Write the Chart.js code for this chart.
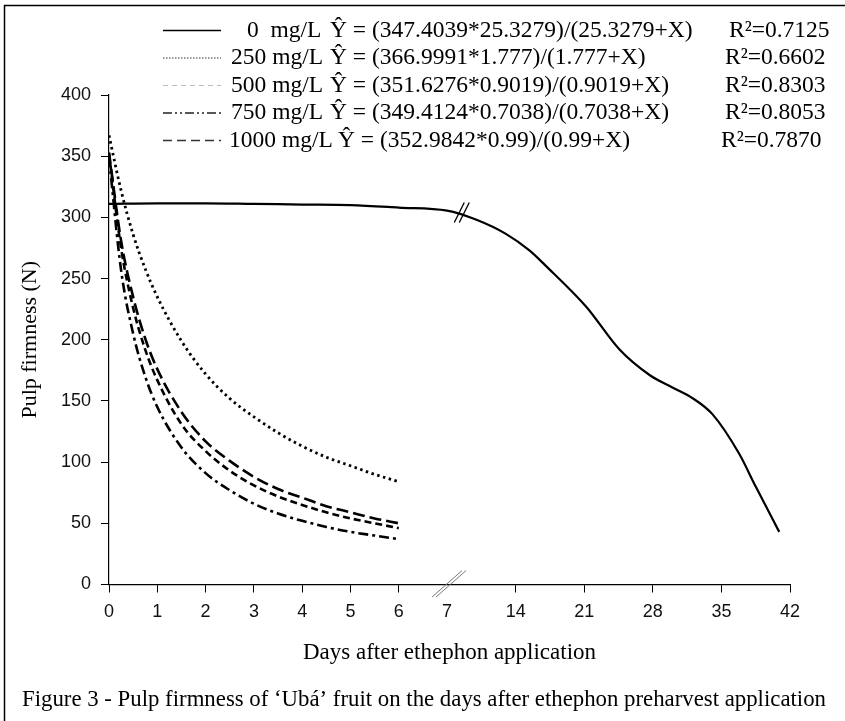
<!DOCTYPE html>
<html>
<head>
<meta charset="utf-8">
<script src="https://cdn.jsdelivr.net/npm/chart.js@4.4.0/dist/chart.umd.min.js"></script>
<style>
  html, body { margin: 0; padding: 0; background: #fff; }
  #wrap { position: relative; width: 845px; height: 721px; }
</style>
</head>
<body>
<div id="wrap"><canvas id="chart"></canvas></div>
<script>
// tick labels on the broken x axis (days)
const dayTicks = [0, 1, 2, 3, 4, 5, 6, 7, 14, 21, 28, 35, 42];

// legend texts
const doseLabels = ["0  mg/L", "250 mg/L", "500 mg/L", "750 mg/L", "1000 mg/L"];
const equations = [
  "Ŷ = (347.4039*25.3279)/(25.3279+X)",
  "Ŷ = (366.9991*1.777)/(1.777+X)",
  "Ŷ = (351.6276*0.9019)/(0.9019+X)",
  "Ŷ = (349.4124*0.7038)/(0.7038+X)",
  "Ŷ = (352.9842*0.99)/(0.99+X)"
];
const rSquared = ["0.7125", "0.6602", "0.8303", "0.8053", "0.7870"];

// 0 mg/L (days, N)
const days0 = [0, 1, 2, 3, 4, 5, 6, 7, 10, 13, 15.4, 17, 21.2, 24.6, 27.7, 30, 32.1, 34.1, 36.8, 38.5, 40.9];
const firm0 = [311, 311.5, 311.5, 311, 310.5, 310, 308, 305.5, 298, 286.5, 273, 261, 227, 192, 171, 161, 152, 139, 107, 80, 43];

// treated fruit, days 0-6
const daysTreated = [0, 0.25, 0.5, 0.75, 1, 1.5, 2, 2.5, 3, 3.5, 4, 4.5, 5, 5.5, 6];
const firm250 = [367, 322, 286, 258, 235, 199, 172, 152, 137, 124, 113, 104, 97, 90, 84];
const firm500 = [352, 275, 226, 192, 167, 131, 109, 93, 81, 72, 65, 59, 54, 50, 46];
const firm750 = [349, 257, 205, 170, 145, 112, 91, 77, 66, 58, 52, 47, 43, 40, 37];
const firm1000 = [353, 281, 235, 201, 176, 141, 117, 101, 88, 78, 71, 64, 59, 54, 50];

// the axis is broken after day 7: each week then takes 1.42 "day" widths
const weekWidth = 1.42;
function axisPos(day) {
  return day <= 7 ? day : 7 + (day - 7) / 7 * weekWidth;
}
function toPoints(days, vals) {
  return days.map((d, i) => ({ x: axisPos(d), y: vals[i] }));
}

const serif = "'Liberation Serif', 'Times New Roman', serif";
const sans = "'Liberation Sans', Arial, sans-serif";

const legendStyles = [
  { dash: [], color: "#000", width: 1.5 },
  { dash: [1.5, 1.5], color: "#333", width: 1.2 },
  { dash: [5, 4], color: "#bbb", width: 1.2 },
  { dash: [9, 3, 2, 3, 2, 3], color: "#222", width: 1.4 },
  { dash: [9, 5], color: "#333", width: 1.4 }
];

const decorPlugin = {
  id: "decor",
  afterDraw(chart) {
    const ctx = chart.ctx;
    const xs = chart.scales.x, ys = chart.scales.y;
    ctx.save();

    // figure frame (top and left)
    ctx.strokeStyle = "#000";
    ctx.lineWidth = 1.5;
    ctx.setLineDash([]);
    ctx.beginPath();
    ctx.moveTo(845, 5.5); ctx.lineTo(4.5, 5.5); ctx.lineTo(4.5, 721);
    ctx.stroke();

    // legend
    ctx.fillStyle = "#000";
    ctx.font = "23.5px " + serif;
    ctx.textBaseline = "middle";
    for (let i = 0; i < doseLabels.length; i++) {
      const y = 30.5 + i * 27.5;
      const st = legendStyles[i];
      ctx.strokeStyle = st.color;
      ctx.lineWidth = st.width;
      ctx.setLineDash(st.dash);
      ctx.beginPath();
      ctx.moveTo(163, y); ctx.lineTo(221, y);
      ctx.stroke();
      ctx.fillText(doseLabels[i], i === 0 ? 247 : (i === 4 ? 229 : 231), y);
      ctx.fillText(equations[i], i === 4 ? 338 : 330, y);
      ctx.fillText("R²=" + rSquared[i], i === 0 ? 729 : (i === 4 ? 721 : 725), y);
    }
    ctx.setLineDash([]);

    // axis break
    const bx = xs.getPixelForValue(axisPos(7)) + 2;
    const by = ys.getPixelForValue(0);
    ctx.strokeStyle = "#777";
    ctx.lineWidth = 1;
    [-2, 2].forEach(o => {
      ctx.beginPath();
      ctx.moveTo(bx - 15 + o, by + 12.5);
      ctx.lineTo(bx + 15 + o, by - 14);
      ctx.stroke();
    });

    // break mark on the 0 mg/L line
    const cx = xs.getPixelForValue(axisPos(8.5));
    const cy = ys.getPixelForValue(304);
    ctx.strokeStyle = "#000";
    ctx.lineWidth = 1.3;
    [-2.5, 2.5].forEach(o => {
      ctx.beginPath();
      ctx.moveTo(cx - 5 + o, cy + 10);
      ctx.lineTo(cx + 5 + o, cy - 10);
      ctx.stroke();
    });

    // caption
    ctx.fillStyle = "#000";
    ctx.font = "22.8px " + serif;
    ctx.textAlign = "left";
    ctx.fillText("Figure 3 - Pulp firmness of \u2018Ub\u00e1\u2019 fruit on the days after ethephon preharvest application", 22, 700);
    ctx.restore();
  }
};

const lineBase = { pointRadius: 0, fill: false, cubicInterpolationMode: "monotone", borderColor: "#000", borderCapStyle: "butt" };

new Chart("chart", {
  type: "line",
  data: {
    datasets: [
      Object.assign({ label: "0 mg/L", data: toPoints(days0, firm0), borderWidth: 2.2 }, lineBase),
      Object.assign({ label: "250 mg/L", data: toPoints(daysTreated, firm250), borderWidth: 2.8, borderDash: [2.5, 3.5] }, lineBase),
      Object.assign({ label: "500 mg/L", data: toPoints(daysTreated, firm500), borderWidth: 2.6, borderDash: [7, 4] }, lineBase),
      Object.assign({ label: "750 mg/L", data: toPoints(daysTreated, firm750), borderWidth: 2.6, borderDash: [10, 4, 3, 4] }, lineBase),
      Object.assign({ label: "1000 mg/L", data: toPoints(daysTreated, firm1000), borderWidth: 2.6, borderDash: [12, 5] }, lineBase)
    ]
  },
  options: {
    responsive: true,
    maintainAspectRatio: false,
    animation: false,
    layout: { padding: { left: 9, right: 55, top: 95, bottom: 52.5 } },
    plugins: {
      legend: { display: false },
      tooltip: { enabled: false }
    },
    scales: {
      x: {
        type: "linear",
        min: 0,
        max: axisPos(42),
        afterBuildTicks: scale => {
          scale.ticks = dayTicks.map(d => ({ value: axisPos(d) }));
        },
        afterFit: scale => { scale.height = 84; },
        ticks: {
          autoSkip: false,
          maxRotation: 0,
          padding: 9,
          color: "#111",
          font: { family: sans, size: 18 },
          callback: (v, i) => dayTicks[i]
        },
        grid: {
          drawOnChartArea: false,
          tickLength: 8,
          tickColor: c => (dayTicks[c.index] === 7 ? "rgba(0,0,0,0)" : "#000")
        },
        border: { color: "#000", width: 1.2 },
        title: {
          display: true,
          text: "Days after ethephon application",
          color: "#000",
          font: { family: serif, size: 23 },
          padding: { top: 0, bottom: 2 }
        }
      },
      y: {
        min: 0,
        max: 400,
        afterFit: scale => { scale.width = 100; },
        ticks: {
          stepSize: 50,
          padding: 10,
          color: "#111",
          font: { family: sans, size: 18 }
        },
        grid: { drawOnChartArea: false, tickLength: 8, tickColor: "#000" },
        border: { color: "#000", width: 1.2 },
        title: {
          display: true,
          text: "Pulp firmness (N)",
          color: "#000",
          font: { family: serif, size: 22 },
          padding: { top: 8, bottom: 0 }
        }
      }
    }
  },
  plugins: [decorPlugin]
});
</script>
</body>
</html>
